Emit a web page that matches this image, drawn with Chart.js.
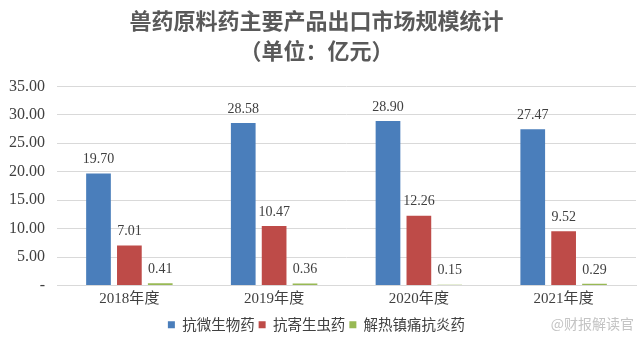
<!DOCTYPE html>
<html>
<head>
<meta charset="utf-8">
<script src="https://cdn.jsdelivr.net/npm/chart.js@4"></script>
<style>
  html, body { margin: 0; padding: 0; background: #fff; }
  #wrap { width: 640px; height: 354px; position: relative; }
</style>
</head>
<body>
<div id="wrap"><canvas id="c" width="640" height="354"></canvas></div>
<script>
// data
var years = ['2018年度', '2019年度', '2020年度', '2021年度'];
var antimicrobial = [19.70, 28.58, 28.90, 27.47];
var antiparasitic = [7.01, 10.47, 12.26, 9.52];
var antipyretic = [0.41, 0.36, 0.15, 0.29];
var seriesNames = ['抗微生物药', '抗寄生虫药', '解热镇痛抗炎药'];
var titleLines = ['兽药原料药主要产品出口市场规模统计', '（单位：亿元）'];

var serif = '"Liberation Serif", "DejaVu Serif", "Noto Sans CJK SC", serif';
var cjk = '"Noto Sans CJK SC", sans-serif';

// value labels above each bar
var valueLabels = {
    id: 'valueLabels',
    afterDatasetsDraw: function(chart){
        var ctx = chart.ctx;
        ctx.save();
        ctx.font = '14px ' + serif;
        ctx.fillStyle = '#404040';
        ctx.textAlign = 'center';
        ctx.textBaseline = 'bottom';
        chart.data.datasets.forEach(function(ds, i){
            chart.getDatasetMeta(i).data.forEach(function(bar, j){
                ctx.fillText(ds.data[j].toFixed(2), bar.x, bar.y - 7);
            });
        });
        ctx.restore();
    }
};

var watermark = {
    id: 'watermark',
    afterDraw: function(chart){
        var ctx = chart.ctx;
        ctx.save();
        ctx.font = '14px ' + cjk;
        ctx.fillStyle = '#c4c4c4';
        ctx.textAlign = 'right';
        ctx.textBaseline = 'middle';
        ctx.fillText('@财报解读官', 634, 324);
        ctx.restore();
    }
};

new Chart(document.getElementById('c').getContext('2d'), {
    type: 'bar',
    data: {
        labels: years,
        datasets: [
            { label: seriesNames[0], data: antimicrobial, backgroundColor: '#4a7ebb' },
            { label: seriesNames[1], data: antiparasitic, backgroundColor: '#be4b48' },
            { label: seriesNames[2], data: antipyretic, backgroundColor: '#98b954' }
        ]
    },
    options: {
        responsive: false,
        animation: false,
        layout: { padding: { left: -3, right: 4, top: 0, bottom: 12 } },
        datasets: { bar: { categoryPercentage: 0.64, barPercentage: 0.8 } },
        plugins: {
            title: {
                display: true,
                text: titleLines,
                color: '#595959',
                font: { family: cjk, size: 22, weight: 'bold', lineHeight: 1.35 },
                padding: { top: 6, bottom: 21 }
            },
            legend: {
                position: 'bottom',
                labels: {
                    color: '#404040',
                    font: { family: cjk, size: 14.5 },
                    boxWidth: 7, boxHeight: 7,
                    padding: 4
                }
            },
            tooltip: { enabled: false }
        },
        scales: {
            x: {
                grid: { display: false, drawTicks: false },
                border: { color: '#d9d9d9' },
                ticks: { color: '#404040', font: { family: serif, size: 15, lineHeight: 0.8 }, padding: 8 }
            },
            y: {
                min: 0, max: 35,
                ticks: {
                    stepSize: 5,
                    color: '#404040',
                    font: { family: serif, size: 16 },
                    padding: 12,
                    callback: function(v){ return v === 0 ? '-' : v.toFixed(2); }
                },
                grid: { color: '#d9d9d9', drawTicks: false },
                border: { display: false }
            }
        }
    },
    plugins: [valueLabels, watermark]
});
</script>
</body>
</html>
